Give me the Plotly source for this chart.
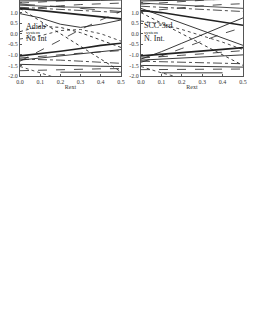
import plotly.graph_objects as go

# x positions (parameter) shared by all curves
x_vals = [0.0, 0.1, 0.2, 0.3, 0.4, 0.5]
x_ticks = [0.0, 0.1, 0.2, 0.3, 0.4, 0.5]
x_tick_text = ["0.0", "0.1", "0.2", "0.3", "0.4", "0.5"]
y_ticks = [1.5, 1.0, 0.5, 0.0, -0.5, -1.0, -1.5, -2.0]
y_tick_text = ["1.5", "1.0", "0.5", "0.0", "-0.5", "-1.0", "-1.5", "-2.0"]
x_title = "Rext"

# ---- left panel (Adiab. system, No Int) ----
left_a = [1.55, 1.55, 1.56, 1.57, 1.58, 1.60]
left_b = [1.45, 1.50, 1.55, 1.60, 1.65, 1.70]
left_c = [1.20, 1.10, 0.98, 0.88, 0.78, 0.70]
left_d = [1.25, 1.20, 1.15, 1.10, 1.05, 1.00]
left_e = [1.35, 1.30, 1.27, 1.25, 1.22, 1.20]
left_f = [1.15, 1.25, 1.32, 1.38, 1.42, 1.45]
left_g = [1.40, 1.35, 1.28, 1.20, 1.12, 1.05]
left_h = [0.95, 0.75, 0.45, 0.30, 0.45, 0.65]
left_i = [0.10, 0.35, 0.30, 0.05, -0.30, -0.65]
left_j = [1.20, 0.60, 0.00, -0.60, -1.20, -1.80]
left_k = [-1.30, -0.80, -0.30, 0.20, 0.65, 1.05]
left_l = [-0.25, -0.10, 0.15, 0.20, 0.00, -0.35]
left_m = [-1.05, -0.95, -0.83, -0.70, -0.55, -0.45]
left_n = [-1.15, -1.07, -0.98, -0.92, -0.86, -0.80]
left_o = [-1.25, -1.15, -1.05, -0.95, -0.85, -0.75]
left_p = [-1.20, -1.22, -1.25, -1.30, -1.35, -1.40]
left_q = [-1.45, -1.48, -1.50, -1.52, -1.54, -1.55]
left_r = [-1.75, -1.72, -1.70, -1.68, -1.66, -1.65]
left_s = [-1.55, -1.85, -2.15, None, None, None]
left_t = [None, None, -1.82, -1.82, -1.82, -1.82]

# ---- right panel (SCC-3rd system, No Int.) ----
right_a = [1.55, 1.56, 1.58, 1.60, 1.62, 1.64]
right_b = [1.40, 1.46, 1.52, 1.58, 1.64, 1.70]
right_c = [1.10, 1.00, 0.85, 0.70, 0.55, 0.40]
right_d = [1.30, 1.25, 1.20, 1.15, 1.10, 1.05]
right_e = [1.45, 1.40, 1.35, 1.30, 1.25, 1.20]
right_f = [1.05, 1.15, 1.25, 1.32, 1.38, 1.42]
right_g = [1.20, 0.85, 0.50, 0.15, -0.20, -0.55]
right_h = [-1.20, -0.85, -0.45, -0.05, 0.35, 0.75]
right_i = [1.00, 0.50, 0.00, -0.50, -1.00, -1.50]
right_j = [-1.35, -1.05, -0.70, -0.35, 0.00, 0.30]
right_k = [0.60, 0.45, 0.20, -0.10, -0.40, -0.75]
right_l = [-1.05, -0.98, -0.90, -0.82, -0.74, -0.66]
right_m = [-1.15, -1.10, -1.02, -0.95, -0.88, -0.80]
right_n = [-1.25, -1.20, -1.15, -1.10, -1.05, -1.00]
right_o = [-1.30, -1.32, -1.35, -1.38, -1.40, -1.42]
right_p = [-1.50, -1.52, -1.53, -1.55, -1.56, -1.58]
right_q = [-1.70, -1.70, -1.69, -1.68, -1.68, -1.67]
right_r = [-1.55, -1.85, -2.10, None, None, None]
right_s = [None, -1.85, -1.85, -1.85, -1.85, None]

left_series = [
    (left_a, "solid", 1.0), (left_b, "dash", 0.8), (left_c, "solid", 1.6),
    (left_d, "dashdot", 0.8), (left_e, "solid", 0.8), (left_f, "dash", 0.8),
    (left_g, "longdash", 0.8), (left_h, "solid", 0.9), (left_i, "dot", 0.9),
    (left_j, "dot", 0.9), (left_k, "dash", 0.8), (left_l, "dot", 0.8),
    (left_m, "solid", 1.6), (left_n, "dash", 0.8), (left_o, "solid", 0.9),
    (left_p, "dashdot", 0.8), (left_q, "solid", 0.9), (left_r, "dash", 0.8),
    (left_s, "dot", 0.8), (left_t, "solid", 0.9),
]
right_series = [
    (right_a, "solid", 1.0), (right_b, "dash", 0.8), (right_c, "solid", 1.6),
    (right_d, "dashdot", 0.8), (right_e, "solid", 0.8), (right_f, "dash", 0.8),
    (right_g, "solid", 0.9), (right_h, "solid", 0.9), (right_i, "dot", 0.9),
    (right_j, "dash", 0.8), (right_k, "dot", 0.8), (right_l, "solid", 1.6),
    (right_m, "dash", 0.8), (right_n, "solid", 0.9), (right_o, "dashdot", 0.8),
    (right_p, "solid", 0.9), (right_q, "dash", 0.8), (right_r, "dot", 0.8),
    (right_s, "solid", 0.9),
]

left_label = ["Adiab", "system", "No Int"]
right_label = ["SCC-3rd", "system", "N. Int."]

fig = go.Figure()
for ys, dash, w in left_series:
    fig.add_trace(go.Scatter(x=x_vals, y=ys, mode="lines", xaxis="x", yaxis="y",
                             line=dict(color="#222222", width=w, dash=dash),
                             showlegend=False, hoverinfo="skip"))
for ys, dash, w in right_series:
    fig.add_trace(go.Scatter(x=x_vals, y=ys, mode="lines", xaxis="x2", yaxis="y2",
                             line=dict(color="#222222", width=w, dash=dash),
                             showlegend=False, hoverinfo="skip"))

W, H = 257, 333
top_px, bot_px = 0, 76
ydom = [1 - bot_px / H, 1 - top_px / H]
font = dict(family="Liberation Serif", size=6, color="#333333")
title_font = dict(family="Liberation Serif", size=6, color="#333333")

axis_common = dict(showgrid=False, zeroline=False, showline=True, mirror=True,
                   linecolor="#555555", linewidth=1, ticks="inside", ticklen=2,
                   tickcolor="#555555", tickfont=font, automargin=False)

fig.update_layout(
    width=W, height=H, margin=dict(l=0, r=0, t=0, b=0, autoexpand=False),
    paper_bgcolor="white", plot_bgcolor="white",
    xaxis=dict(domain=[20 / W, 121 / W], range=[0, 0.5], tickvals=x_ticks,
               ticktext=x_tick_text, anchor="y",
               title=dict(text=x_title, font=title_font, standoff=0),
               **axis_common),
    yaxis=dict(domain=ydom, range=[-2.0, 1.595], tickvals=y_ticks,
               ticktext=y_tick_text, anchor="x", **axis_common),
    xaxis2=dict(domain=[141 / W, 243 / W], range=[0, 0.5], tickvals=x_ticks,
                ticktext=x_tick_text, anchor="y2",
                title=dict(text=x_title, font=title_font, standoff=0),
                **axis_common),
    yaxis2=dict(domain=ydom, range=[-2.0, 1.595], tickvals=y_ticks,
                ticktext=y_tick_text, anchor="x2", **axis_common),
)

# stacked panel labels (one annotation per line)
left_sizes = [8, 5, 8]
right_sizes = [8, 5, 8]
left_ys = [0.34, 0.05, -0.22]
right_ys = [0.38, 0.05, -0.22]
for txt, sz, yy in zip(left_label, left_sizes, left_ys):
    fig.add_annotation(x=0.02, y=yy, xref="x", yref="y", xanchor="left", yanchor="middle",
                       text=txt, showarrow=False,
                       font=dict(family="Liberation Serif", size=sz, color="#222"))
for txt, sz, yy in zip(right_label, right_sizes, right_ys):
    fig.add_annotation(x=0.005, y=yy, xref="x2", yref="y2", xanchor="left", yanchor="middle",
                       text=txt, showarrow=False,
                       font=dict(family="Liberation Serif", size=sz, color="#222"))

fig.write_html("out.html", config={"displayModeBar": False},
               post_script="document.body.style.margin='0px';")
